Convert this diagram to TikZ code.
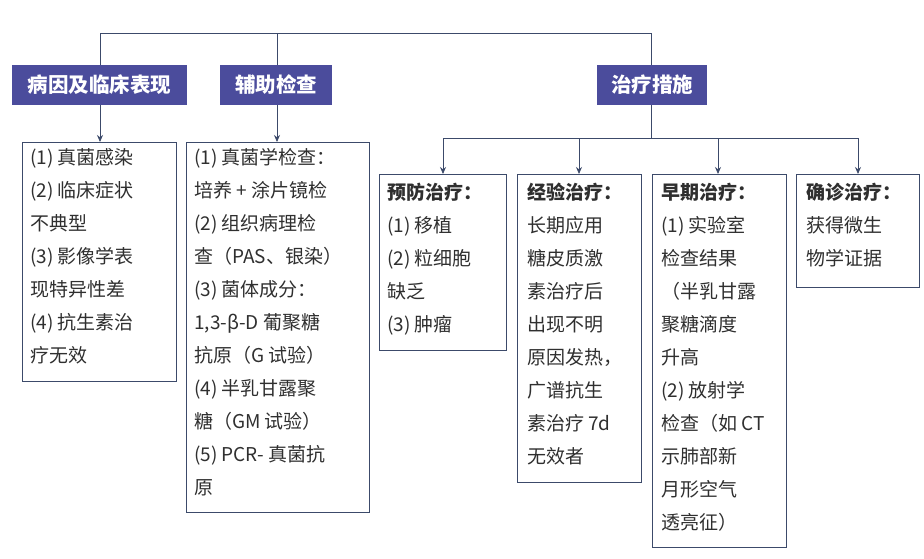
\documentclass[tikz,border=0pt]{standalone}
\usepackage{fontspec}
\setmainfont{Noto Sans CJK SC}
\usetikzlibrary{arrows.meta}
\definecolor{hdr}{HTML}{4B4C9C}
\definecolor{bd}{HTML}{3C4A6A}
\definecolor{tx}{HTML}{2F2F2F}
\begin{document}
\begin{tikzpicture}[x=1pt,y=-1pt,
  hbox/.style={fill=hdr,text=white,font=\fontsize{20.5}{22}\selectfont\bfseries,inner sep=0pt,minimum height=40pt},
  cbox/.style={draw=bd,line width=0.8pt},
  txt/.style={anchor=north west,align=left,text=tx,inner sep=0pt,font=\fontsize{19}{33}\selectfont},
  ln/.style={draw=bd,line width=0.8pt},
  arr/.style={ln,-{Stealth[length=7pt,width=6pt]}}]
\useasboundingbox (0,0) rectangle (924,558);
\node[hbox,minimum width=175pt] (h1) at (99.5,85) {病因及临床表现};
\node[hbox,minimum width=112pt] (h2) at (276,85) {辅助检查};
\node[hbox,minimum width=110pt] (h3) at (652,85) {治疗措施};
\coordinate (t1) at (100,33); \coordinate (t3) at (651,33); \coordinate (t2) at (277,33);
\draw[ln] (h1.north -| t1) -- (t1) -- (t3) -- (h3.north -| t3);
\draw[ln] (t2) -- (h2.north -| t2);
% boxes
\draw[cbox] (22,142) rectangle (176,381);
\draw[cbox] (186,142) rectangle (369,512);
\draw[cbox] (379,174) rectangle (506,350);
\draw[cbox] (517,174) rectangle (641,482);
\draw[cbox] (652,174) rectangle (786,547);
\draw[cbox] (796,174) rectangle (919,287);
\coordinate (a) at (100,142); \coordinate (b) at (277,142);
\draw[arr] (h1.south -| a) -- (a);
\draw[arr] (h2.south -| b) -- (b);
\coordinate (m) at (651,138);
\coordinate (c) at (443,138); \coordinate (d) at (579,138);
\coordinate (e) at (718,138); \coordinate (f) at (858,138);
\draw[ln] (h3.south -| m) -- (m);
\draw[ln] (c) -- (f);
\foreach \p in {c,d,e,f} \draw[arr] (\p) -- ++(0,36);
\node[txt] (ta) at (30,148) {(1) 真菌感染\\(2) 临床症状\\不典型\\(3) 影像学表\\现特异性差\\(4) 抗生素治\\疗无效};
\node[txt] (tb) at (194,148) {(1) 真菌学检查：\\培养 + 涂片镜检\\(2) 组织病理检\\查（PAS、银染）\\(3) 菌体成分：\\1,3-β-D 葡聚糖\\抗原（G 试验）\\(4) 半乳甘露聚\\糖（GM 试验）\\(5) PCR- 真菌抗\\原};
\node[txt] (tc) at (387,183) {\textbf{预防治疗：}\\(1) 移植\\(2) 粒细胞\\缺乏\\(3) 肿瘤};
\node[txt] (td) at (527,183) {\textbf{经验治疗：}\\长期应用\\糖皮质激\\素治疗后\\出现不明\\原因发热，\\广谱抗生\\素治疗 7d\\无效者};
\node[txt] (te) at (661,183) {\textbf{早期治疗：}\\(1) 实验室\\检查结果\\（半乳甘露\\聚糖滴度\\升高\\(2) 放射学\\检查（如 CT\\示肺部新\\月形空气\\透亮征）};
\node[txt] (tf) at (806,183) {\textbf{确诊治疗：}\\获得微生\\物学证据};
\end{tikzpicture}
\end{document}
